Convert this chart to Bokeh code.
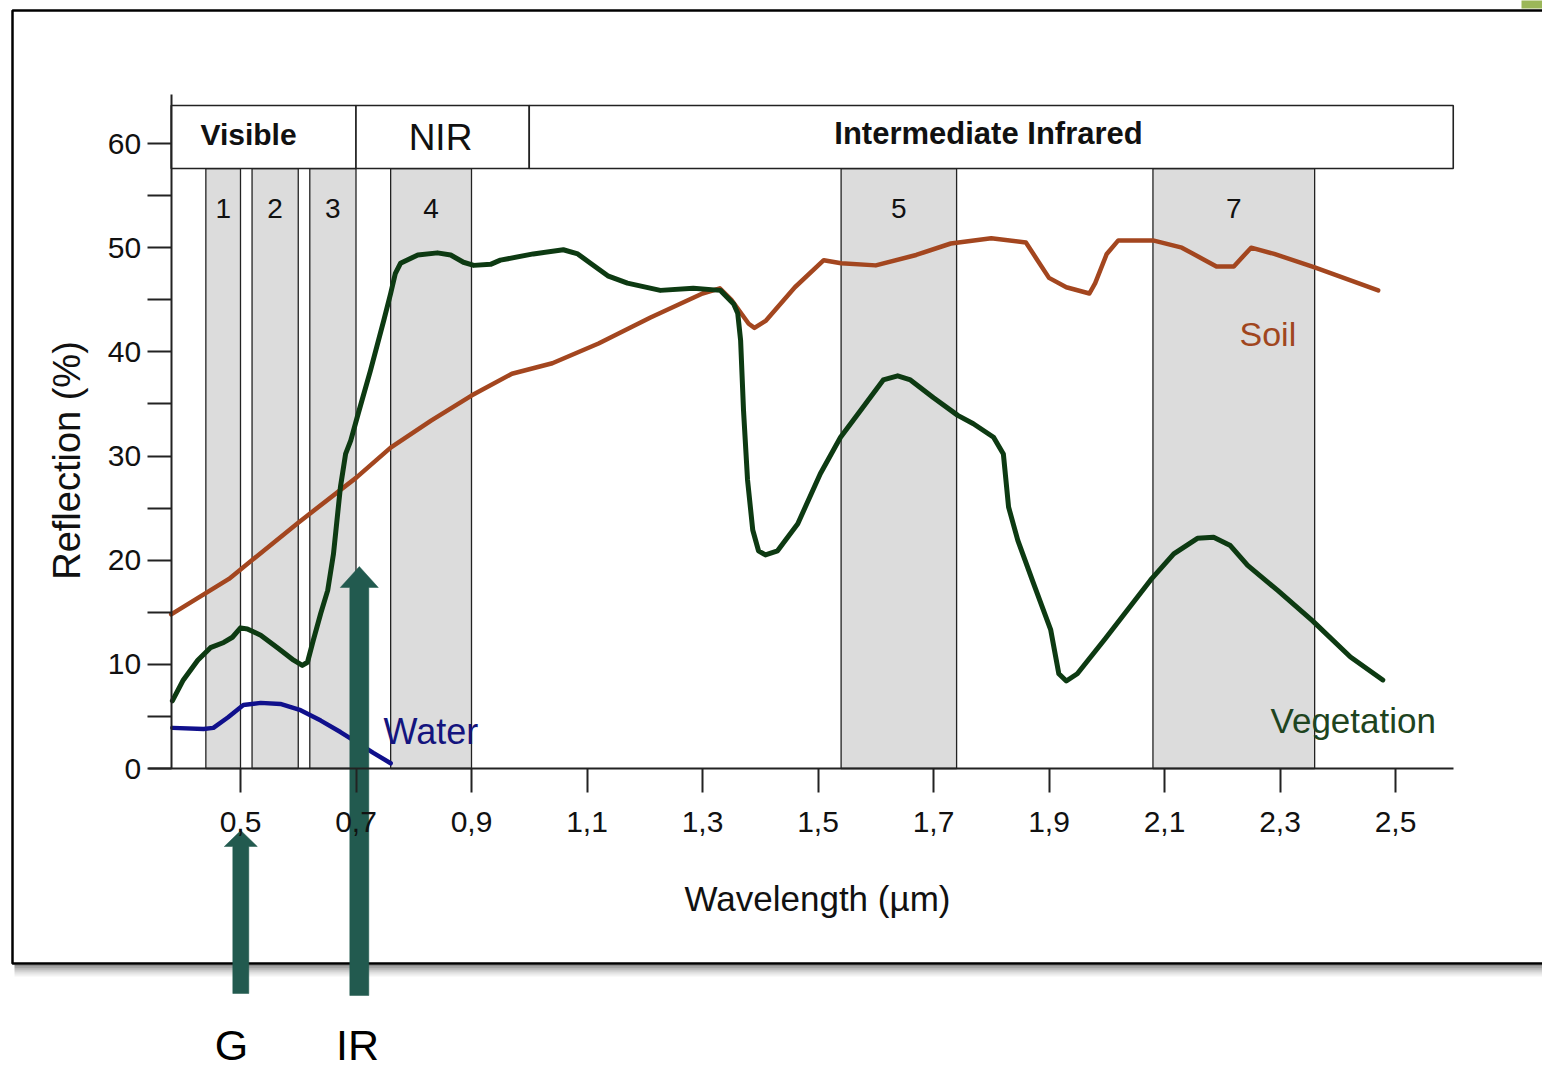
import math
from bokeh.plotting import figure
from bokeh.models import Range1d, LinearAxis, FixedTicker, ColumnDataSource
from bokeh.embed import file_html
from bokeh.resources import INLINE
from bokeh.core.properties import value

# ---------------- data ----------------
wavelength_ticks = [0.5, 0.7, 0.9, 1.1, 1.3, 1.5, 1.7, 1.9, 2.1, 2.3, 2.5]
wavelength_tick_labels = ["0,5", "0,7", "0,9", "1,1", "1,3", "1,5", "1,7", "1,9", "2,1", "2,3", "2,5"]
reflection_ticks = [0, 10, 20, 30, 40, 50, 60]
reflection_minor_ticks = [5, 15, 25, 35, 45, 55]
x_title = "Wavelength (µm)"
y_title = "Reflection (%)"

regions = ["Visible", "NIR", "Intermediate Infrared"]
region_start = [0.38, 0.70, 1.00]
region_end = [0.70, 1.00, 2.60]

bands = ["1", "2", "3", "4", "5", "7"]
band_start = [0.44, 0.52, 0.62, 0.76, 1.54, 2.08]
band_end = [0.50, 0.60, 0.70, 0.90, 1.74, 2.36]

soil_x = [0.38, 0.48, 0.60, 0.70, 0.76, 0.83, 0.90, 0.97, 1.04, 1.12, 1.21, 1.30, 1.33, 1.35,
          1.38, 1.39, 1.41, 1.46, 1.51, 1.54, 1.60, 1.67, 1.73, 1.80, 1.86, 1.88, 1.90, 1.93,
          1.97, 1.98, 2.00, 2.02, 2.08, 2.13, 2.17, 2.19, 2.22, 2.25, 2.29, 2.36, 2.47]
soil_y = [14.8, 18.2, 23.6, 27.9, 30.8, 33.4, 35.8, 37.9, 38.9, 40.8, 43.3, 45.6, 46.1, 45.0,
          42.7, 42.3, 43.0, 46.2, 48.8, 48.5, 48.3, 49.3, 50.4, 50.9, 50.5, 48.8, 47.1, 46.2,
          45.6, 46.6, 49.4, 50.7, 50.7, 50.0, 48.8, 48.2, 48.2, 50.0, 49.4, 48.1, 45.9]

veg_x = [0.382, 0.401, 0.426, 0.448, 0.471, 0.486, 0.500, 0.512, 0.535, 0.564, 0.592, 0.607,
         0.616, 0.626, 0.639, 0.651, 0.661, 0.673, 0.682, 0.691, 0.704, 0.725, 0.748, 0.760,
         0.768, 0.777, 0.807, 0.841, 0.864, 0.886, 0.904, 0.933, 0.950, 1.007, 1.059, 1.084,
         1.106, 1.136, 1.170, 1.227, 1.284, 1.331, 1.354, 1.361, 1.366, 1.371, 1.378, 1.387,
         1.397, 1.409, 1.430, 1.465, 1.504, 1.539, 1.574, 1.613, 1.638, 1.660, 1.700, 1.742,
         1.769, 1.804, 1.821, 1.830, 1.846, 1.873, 1.903, 1.917, 1.930, 1.949, 1.998, 2.076,
         2.116, 2.157, 2.185, 2.214, 2.244, 2.296, 2.356, 2.422, 2.478]
veg_y = [6.5, 8.5, 10.4, 11.6, 12.1, 12.6, 13.5, 13.4, 12.8, 11.6, 10.4, 9.9,
         10.2, 12.3, 14.9, 17.1, 20.6, 27.0, 30.2, 31.5, 34.1, 38.2, 43.0, 45.6,
         47.5, 48.5, 49.3, 49.5, 49.3, 48.6, 48.3, 48.4, 48.8, 49.4, 49.8, 49.4,
         48.5, 47.3, 46.6, 45.9, 46.1, 45.9, 44.6, 43.7, 41.1, 34.4, 27.7, 22.9,
         20.9, 20.5, 20.9, 23.5, 28.3, 31.8, 34.4, 37.3, 37.7, 37.3, 35.6, 33.9,
         33.1, 31.8, 30.2, 25.1, 21.9, 17.8, 13.3, 9.1, 8.4, 9.1, 12.5, 18.1,
         20.6, 22.1, 22.2, 21.4, 19.5, 17.1, 14.2, 10.7, 8.5]

water_x = [0.382, 0.436, 0.453, 0.478, 0.505, 0.535, 0.569, 0.604, 0.639, 0.673, 0.696, 0.730, 0.760]
water_y = [3.9, 3.8, 3.9, 4.9, 6.1, 6.3, 6.2, 5.6, 4.6, 3.5, 2.7, 1.5, 0.5]

arrow_labels = ["G", "IR"]

# ---------------- layout constants ----------------
W, H = 1542, 1071
PX_X = 577.5          # pixels per micrometre
PX_Y = 625.0 / 60.0   # pixels per percent
X0_REF, Y0_REF = 240.0, 768.0   # page pixel of (0.5 um, 0 %)


def X(px):
    return 0.5 + (px - X0_REF) / PX_X


def Y(py):
    return (Y0_REF - py) / PX_Y


HEADER_BOTTOM, HEADER_TOP = Y(168), Y(105)
BAND_LABEL_Y = Y(208)
FONT = "Liberation Sans"

p = figure(width=W, height=H, output_backend="svg", toolbar_location=None,
           x_range=Range1d(X(0), X(W)), y_range=Range1d(Y(H), Y(0)),
           x_axis_location=None, y_axis_location=None, title=None,
           background_fill_color="white", border_fill_color="white")
p.min_border = 0
p.min_border_left = 0
p.min_border_right = 0
p.min_border_top = 0
p.min_border_bottom = 0
p.outline_line_color = None
p.grid.grid_line_color = None

# ---- slide frame with shadow and corner mark ----
for i, a in enumerate([0.45, 0.35, 0.25, 0.17, 0.10, 0.05]):
    p.line([X(14), X(1700)], [Y(965 + 2 * i), Y(965 + 2 * i)], line_color="black",
           line_alpha=a, line_width=2)
p.quad(left=[X(12)], right=[X(1700)], top=[Y(10)], bottom=[Y(963)],
       fill_color=None, line_color="black", line_width=2.5)
p.quad(left=[X(1521)], right=[X(1560)], top=[Y(-5)], bottom=[Y(8)],
       fill_color="#9bb759", line_color=None)

# ---- spectral bands ----
band_src = ColumnDataSource(dict(name=bands, left=band_start, right=band_end,
                                 mid=[(a + b) / 2 for a, b in zip(band_start, band_end)]))
p.quad(left="left", right="right", bottom=0, top=HEADER_BOTTOM, source=band_src,
       fill_color="#dcdcdc", line_color="#222222", line_width=1.3)
p.text(x="mid", y=BAND_LABEL_Y, text="name", source=band_src, text_align="center",
       text_baseline="middle", text_font=value(FONT), text_font_size="28px", text_color="#111111")

# ---- header boxes ----
p.quad(left=region_start, right=region_end, bottom=HEADER_BOTTOM, top=HEADER_TOP,
       fill_color="white", line_color="#222222", line_width=1.6)
region_label_x = [X(248), X(440), X(988)]
region_label_y = [Y(134), Y(137), Y(133)]
region_font_size = ["30px", "37px", "31px"]
region_font_style = ["bold", "normal", "bold"]
for t, lx, ly, fs, st in zip(regions, region_label_x, region_label_y, region_font_size, region_font_style):
    p.text(x=[lx], y=[ly], text=[t], text_align="center", text_baseline="middle",
           text_font=value(FONT), text_font_size=fs, text_font_style=st, text_color="#111111")

# ---- curves ----
SOIL_C, VEG_C, WATER_C = "#a3461f", "#0d3a12", "#10108c"
p.line(soil_x, soil_y, line_color=SOIL_C, line_width=4.5, line_join="round", line_cap="round")
p.line(water_x, water_y, line_color=WATER_C, line_width=4.5, line_join="round", line_cap="round")
p.line(veg_x, veg_y, line_color=VEG_C, line_width=5, line_join="round", line_cap="round")

p.text(x=[X(1239)], y=[Y(333)], text=["Soil"], text_align="left", text_baseline="middle",
       text_font=value(FONT), text_font_size="34px", text_color="#a0461e")
p.text(x=[X(383)], y=[Y(731)], text=["Water"], text_align="left", text_baseline="middle",
       text_font=value(FONT), text_font_size="36px", text_color="#14147e")
p.text(x=[X(1270)], y=[Y(720)], text=["Vegetation"], text_align="left", text_baseline="middle",
       text_font=value(FONT), text_font_size="35px", text_color="#1e4420")

# ---- axes ----
xaxis = LinearAxis(fixed_location=0, bounds=(X(148), 2.6),
                   ticker=FixedTicker(ticks=wavelength_ticks),
                   major_label_overrides=dict(zip(wavelength_ticks, wavelength_tick_labels)))
yaxis = LinearAxis(fixed_location=0.38, bounds=(0, Y(94)),
                   ticker=FixedTicker(ticks=reflection_ticks, minor_ticks=reflection_minor_ticks))
for ax in (xaxis, yaxis):
    ax.axis_line_color = "#222222"
    ax.axis_line_width = 2
    ax.major_tick_line_color = "#222222"
    ax.major_tick_line_width = 2
    ax.major_tick_in = 0
    ax.major_tick_out = 24
    ax.minor_tick_line_color = "#222222"
    ax.minor_tick_line_width = 2
    ax.minor_tick_in = 0
    ax.minor_tick_out = 24
    ax.major_label_text_font = FONT
    ax.major_label_text_font_size = "30px"
    ax.major_label_text_color = "#111111"
xaxis.minor_tick_line_color = None
xaxis.major_label_standoff = 19
yaxis.major_label_standoff = 6
p.add_layout(xaxis, "below")
p.add_layout(yaxis, "left")

# axis titles (placed where the original puts them)
p.text(x=[X(817)], y=[Y(898)], text=[x_title], text_align="center", text_baseline="middle",
       text_font=value(FONT), text_font_size="35px", text_color="#111111")
p.text(x=[X(66)], y=[Y(460)], text=[y_title], angle=math.pi / 2, text_align="center",
       text_baseline="middle", text_font=value(FONT), text_font_size="38px", text_color="#111111")

# ---- annotation arrows ----
ARROW_C = "#225a4f"
arrow_x = [X(240.3), X(358.8)]
arrow_tip = [Y(830), Y(566)]
arrow_tail = [Y(993), Y(995)]
shaft_w = [16, 19]
head_w = [33, 38]
head_len = [16, 21]
xs, ys = [], []
for ax_, tip, tail, sw, hw, hl in zip(arrow_x, arrow_tip, arrow_tail, shaft_w, head_w, head_len):
    s, h, l = sw / 2 / PX_X, hw / 2 / PX_X, hl / PX_Y
    xs.append([ax_ - s, ax_ - s, ax_ - h, ax_, ax_ + h, ax_ + s, ax_ + s])
    ys.append([tail, tip - l, tip - l, tip, tip - l, tip - l, tail])
p.patches(xs, ys, fill_color=ARROW_C, line_color=ARROW_C, line_width=0.5)
p.text(x=[X(231), X(357)], y=[Y(1044), Y(1044)], text=arrow_labels, text_align="center",
       text_baseline="middle", text_font=value(FONT), text_font_size="43px", text_color="black")

open("out.html", "w").write(file_html(p, INLINE))
